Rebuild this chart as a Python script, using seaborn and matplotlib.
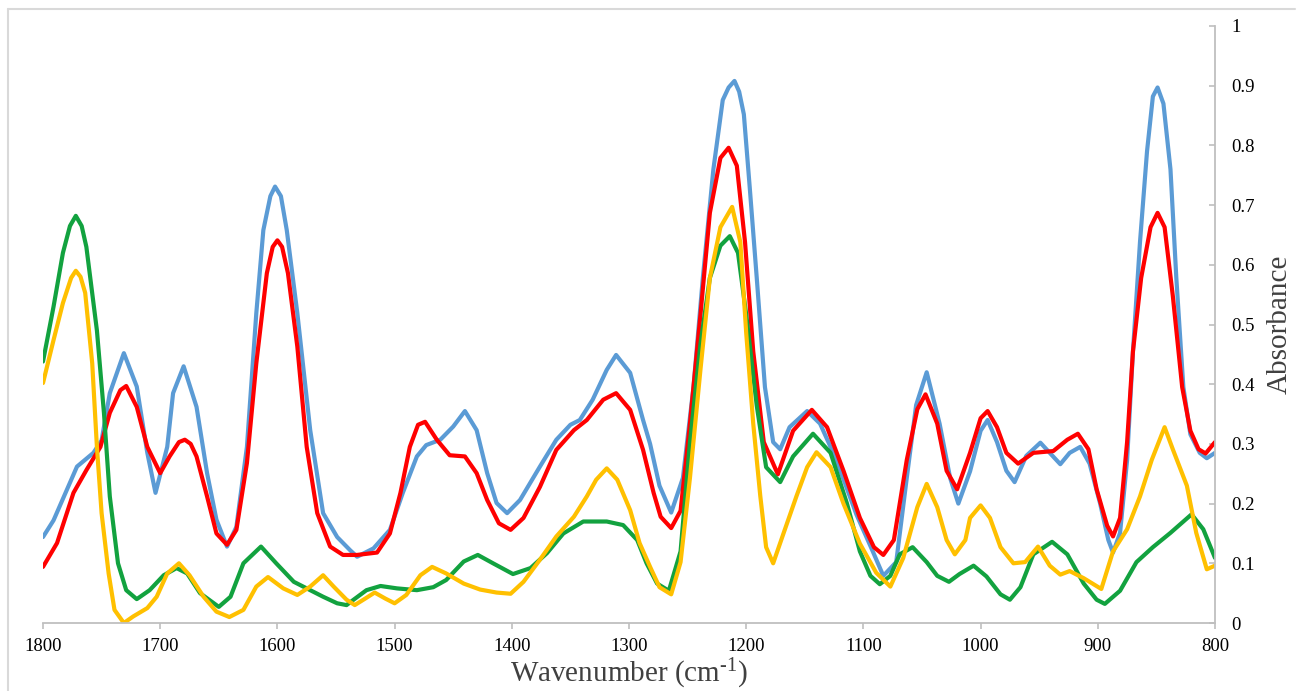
import matplotlib
matplotlib.use("Agg")
import matplotlib.pyplot as plt
from matplotlib.lines import Line2D
import seaborn as sns
import pandas as pd

# ---------------- data ----------------
blue_x = [1800, 1791, 1771, 1757, 1750, 1743, 1731, 1720, 1711, 1704, 1694, 1689, 1680, 1669, 1660,
          1652, 1643, 1635, 1626, 1618, 1612, 1606, 1602, 1597, 1592, 1583, 1572, 1561, 1549, 1538,
          1532, 1518, 1504, 1493, 1481, 1473, 1461, 1450, 1440, 1430, 1421, 1413, 1404, 1393, 1376,
          1362, 1350, 1342, 1331, 1319, 1311, 1299, 1288, 1282, 1274, 1264, 1254, 1245, 1237, 1228,
          1220, 1215, 1210, 1206, 1202, 1197, 1191, 1184, 1177, 1171, 1163, 1148, 1137, 1123, 1106,
          1092, 1083, 1072, 1063, 1055, 1046, 1035, 1026, 1019, 1009, 1000, 994, 986, 978, 971,
          961, 949, 941, 932, 924, 915, 907, 898, 891, 887, 881, 875, 870, 864, 858,
          853, 849, 844, 838, 833, 827, 821, 813, 807, 800]
blue_y = [0.144, 0.172, 0.262, 0.285, 0.306, 0.385, 0.452, 0.396, 0.285, 0.218, 0.295, 0.385, 0.430, 0.362, 0.251,
          0.173, 0.128, 0.161, 0.295, 0.519, 0.658, 0.715, 0.731, 0.715, 0.658, 0.519, 0.323, 0.184, 0.144, 0.122,
          0.111, 0.125, 0.156, 0.218, 0.279, 0.298, 0.307, 0.329, 0.355, 0.323, 0.251, 0.201, 0.184, 0.206, 0.262,
          0.307, 0.332, 0.340, 0.374, 0.424, 0.449, 0.419, 0.340, 0.300, 0.230, 0.185, 0.243, 0.395, 0.578, 0.760,
          0.876, 0.897, 0.908, 0.890, 0.852, 0.730, 0.578, 0.395, 0.303, 0.291, 0.328, 0.355, 0.334, 0.273, 0.182,
          0.120, 0.079, 0.102, 0.243, 0.365, 0.420, 0.334, 0.243, 0.200, 0.254, 0.322, 0.340, 0.303, 0.255, 0.236,
          0.280, 0.302, 0.285, 0.266, 0.285, 0.295, 0.267, 0.200, 0.139, 0.118, 0.151, 0.273, 0.455, 0.638, 0.790,
          0.882, 0.897, 0.870, 0.760, 0.578, 0.395, 0.316, 0.285, 0.276, 0.285]

red_x = [1800, 1788, 1774, 1763, 1751, 1743, 1734, 1729, 1720, 1711, 1700, 1692, 1684, 1679, 1674,
         1669, 1660, 1652, 1643, 1635, 1626, 1618, 1609, 1604, 1600, 1596, 1591, 1583, 1575, 1566,
         1555, 1544, 1532, 1515, 1504, 1495, 1487, 1480, 1474, 1464, 1453, 1440, 1430, 1421, 1411,
         1401, 1390, 1376, 1362, 1347, 1336, 1322, 1311, 1299, 1288, 1279, 1273, 1264, 1256, 1248,
         1239, 1231, 1222, 1215, 1208, 1201, 1194, 1185, 1173, 1160, 1144, 1131, 1117, 1103, 1091,
         1083, 1074, 1063, 1054, 1047, 1037, 1029, 1020, 1009, 1000, 994, 986, 978, 968, 955,
         938, 926, 917, 908, 901, 892, 887, 881, 875, 870, 863, 855, 849, 843, 836,
         828, 821, 814, 808, 800]
red_y = [0.094, 0.134, 0.218, 0.256, 0.295, 0.352, 0.390, 0.397, 0.362, 0.295, 0.251, 0.279, 0.303, 0.307, 0.300,
         0.279, 0.212, 0.150, 0.131, 0.156, 0.268, 0.435, 0.586, 0.630, 0.641, 0.630, 0.586, 0.463, 0.295, 0.184,
         0.128, 0.114, 0.114, 0.118, 0.150, 0.218, 0.295, 0.332, 0.337, 0.307, 0.281, 0.279, 0.251, 0.206, 0.167,
         0.156, 0.176, 0.228, 0.290, 0.323, 0.340, 0.374, 0.385, 0.357, 0.290, 0.218, 0.178, 0.159, 0.188, 0.334,
         0.517, 0.687, 0.779, 0.796, 0.766, 0.638, 0.455, 0.303, 0.249, 0.322, 0.357, 0.328, 0.255, 0.176, 0.127,
         0.114, 0.139, 0.273, 0.358, 0.383, 0.334, 0.255, 0.224, 0.285, 0.343, 0.355, 0.328, 0.285, 0.267, 0.285,
         0.288, 0.307, 0.317, 0.291, 0.224, 0.163, 0.145, 0.176, 0.303, 0.455, 0.578, 0.663, 0.687, 0.663, 0.548,
         0.395, 0.322, 0.291, 0.284, 0.303]

green_x = [1800, 1791, 1783, 1777, 1772, 1767, 1763, 1754, 1748, 1743, 1736, 1729, 1720, 1709, 1697,
           1686, 1677, 1666, 1650, 1640, 1629, 1614, 1601, 1586, 1572, 1561, 1549, 1541, 1535, 1524,
           1512, 1498, 1481, 1467, 1456, 1441, 1429, 1416, 1399, 1384, 1370, 1356, 1339, 1319, 1305,
           1293, 1285, 1276, 1266, 1256, 1248, 1239, 1231, 1222, 1214, 1207, 1200, 1191, 1183, 1171,
           1160, 1143, 1128, 1114, 1103, 1094, 1086, 1077, 1069, 1058, 1046, 1037, 1027, 1018, 1006,
           995, 983, 975, 966, 955, 939, 926, 912, 901, 894, 881, 867, 853, 838, 820,
           810, 800]
green_y = [0.438, 0.530, 0.620, 0.665, 0.682, 0.665, 0.630, 0.490, 0.352, 0.212, 0.100, 0.055, 0.040, 0.055, 0.080,
           0.092, 0.083, 0.050, 0.027, 0.044, 0.100, 0.128, 0.100, 0.069, 0.055, 0.044, 0.033, 0.030, 0.039, 0.055,
           0.062, 0.058, 0.055, 0.060, 0.072, 0.103, 0.114, 0.100, 0.082, 0.092, 0.117, 0.150, 0.170, 0.170, 0.164,
           0.139, 0.100, 0.066, 0.054, 0.120, 0.303, 0.468, 0.578, 0.632, 0.648, 0.620, 0.517, 0.364, 0.261, 0.236,
           0.279, 0.317, 0.285, 0.200, 0.120, 0.079, 0.065, 0.079, 0.115, 0.127, 0.102, 0.079, 0.069, 0.082, 0.096,
           0.078, 0.048, 0.039, 0.060, 0.115, 0.136, 0.115, 0.066, 0.039, 0.032, 0.054, 0.102, 0.127, 0.151, 0.182,
           0.157, 0.109]

yellow_x = [1800, 1791, 1783, 1776, 1772, 1768, 1764, 1758, 1754, 1750, 1744, 1739, 1731, 1723, 1711,
            1703, 1694, 1684, 1675, 1663, 1652, 1641, 1629, 1618, 1608, 1595, 1583, 1572, 1561, 1552,
            1541, 1534, 1525, 1517, 1508, 1500, 1490, 1478, 1468, 1456, 1441, 1427, 1413, 1401, 1390,
            1376, 1362, 1347, 1336, 1328, 1319, 1310, 1299, 1291, 1282, 1274, 1264, 1256, 1248, 1239,
            1231, 1222, 1212, 1205, 1200, 1194, 1188, 1183, 1177, 1168, 1157, 1148, 1140, 1128, 1117,
            1103, 1089, 1077, 1066, 1054, 1046, 1037, 1029, 1022, 1013, 1009, 1000, 992, 983, 972,
            962, 951, 941, 932, 924, 912, 897, 887, 875, 864, 854, 843, 836, 824, 816,
            807, 800]
yellow_y = [0.402, 0.474, 0.536, 0.578, 0.590, 0.580, 0.553, 0.435, 0.295, 0.184, 0.083, 0.022, 0.000, 0.011, 0.025,
            0.044, 0.083, 0.100, 0.080, 0.044, 0.019, 0.010, 0.022, 0.061, 0.077, 0.058, 0.047, 0.061, 0.080, 0.061,
            0.039, 0.030, 0.041, 0.051, 0.041, 0.033, 0.047, 0.080, 0.094, 0.083, 0.066, 0.056, 0.051, 0.049, 0.069,
            0.106, 0.145, 0.178, 0.212, 0.240, 0.259, 0.240, 0.189, 0.134, 0.094, 0.060, 0.048, 0.102, 0.243, 0.425,
            0.578, 0.663, 0.697, 0.638, 0.486, 0.334, 0.213, 0.127, 0.100, 0.151, 0.213, 0.261, 0.286, 0.261, 0.200,
            0.133, 0.084, 0.061, 0.109, 0.194, 0.233, 0.194, 0.139, 0.115, 0.139, 0.176, 0.197, 0.176, 0.127, 0.100,
            0.102, 0.128, 0.096, 0.081, 0.087, 0.075, 0.057, 0.120, 0.157, 0.212, 0.273, 0.328, 0.291, 0.230, 0.151,
            0.090, 0.096]

x_ticks = [1800, 1700, 1600, 1500, 1400, 1300, 1200, 1100, 1000, 900, 800]
y_ticks = [0, 0.1, 0.2, 0.3, 0.4, 0.5, 0.6, 0.7, 0.8, 0.9, 1.0]
y_tick_labels = ["0", "0.1", "0.2", "0.3", "0.4", "0.5", "0.6", "0.7", "0.8", "0.9", "1"]

series = [
    (blue_x, blue_y, "#5B9BD5"),
    (red_x, red_y, "#FF0000"),
    (green_x, green_y, "#12A23F"),
    (yellow_x, yellow_y, "#FFC000"),
]

# ---------------- style ----------------
sns.set_theme(style="white")
plt.rcParams["font.family"] = ["Liberation Serif", "DejaVu Serif"]
plt.rcParams["mathtext.default"] = "regular"

fig = plt.figure(figsize=(13.02, 6.91), dpi=100)
ax = fig.add_axes([43 / 1302, 1 - 623 / 691, (1215 - 43) / 1302, (623 - 26) / 691])

for xs, ys, col in series:
    df = pd.DataFrame({"wn": xs, "abs": ys})
    sns.lineplot(data=df, x="wn", y="abs", ax=ax, color=col, linewidth=3.0,
                 estimator=None, sort=False, solid_joinstyle="round",
                 solid_capstyle="round")

ax.set_xlim(1800, 800)
ax.set_ylim(0, 1)
ax.set_xticks(x_ticks)
ax.set_xticklabels([str(v) for v in x_ticks])
ax.set_yticks(y_ticks)
ax.set_yticklabels(y_tick_labels)

ax.yaxis.tick_right()
ax.yaxis.set_label_position("right")
for s in ["top", "left"]:
    ax.spines[s].set_visible(False)
for s in ["bottom", "right"]:
    ax.spines[s].set_color("#BFBFBF")
    ax.spines[s].set_linewidth(1.3)

ax.tick_params(axis="x", direction="out", length=4, width=1.2, color="#BFBFBF",
               pad=7, labelsize=13.5, labelcolor="#000000", bottom=True)
ax.tick_params(axis="y", direction="in", length=4, width=1.2, color="#BFBFBF",
               pad=12, labelsize=13.5, labelcolor="#000000", right=True, left=False)

ax.set_xlabel("Wavenumber (cm$^{\u2010 1}$)".replace("\u2010 ", "\u2010"), fontsize=21,
              color="#404040", labelpad=1)
ax.set_ylabel("Absorbance", fontsize=21, color="#404040", labelpad=8)
ax.grid(False)

# light frame lines of the original picture
fig.add_artist(Line2D([8 / 1302, 8 / 1302], [0, 1 - 9 / 691], transform=fig.transFigure,
                      color="#D9D9D9", linewidth=1.5))
fig.add_artist(Line2D([8 / 1302, 1295 / 1302], [1 - 9 / 691, 1 - 9 / 691], transform=fig.transFigure,
                      color="#D9D9D9", linewidth=1.5))

fig.savefig("out.png", dpi=100)
